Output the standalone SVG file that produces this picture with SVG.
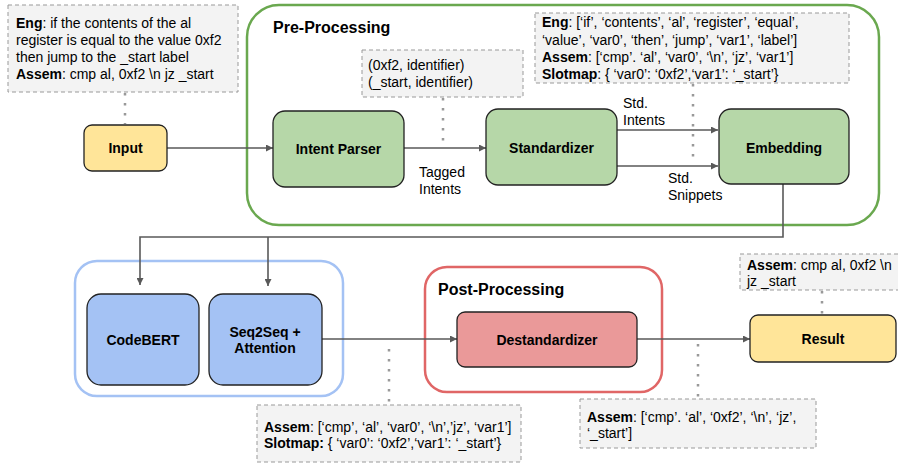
<svg xmlns="http://www.w3.org/2000/svg" width="898" height="465" viewBox="0 0 898 465">
<defs>
<marker id="arr" viewBox="0 0 10 10" refX="10" refY="5" markerWidth="7" markerHeight="7" markerUnits="userSpaceOnUse" orient="auto">
<path d="M0,0 L10,5 L0,10 z" fill="#595959"/>
</marker>
</defs>
<style>
text{font-family:"Liberation Sans",Arial,sans-serif;fill:#000}
.t{font-size:14px}
.b{font-weight:bold}
.nl{font-size:14px;font-weight:bold;text-anchor:middle}
.title{font-size:16px;font-weight:bold}
.note{fill:#f3f3f3;stroke:#999;stroke-width:1;stroke-dasharray:4 3}
.dot{fill:none;stroke:#999;stroke-width:2.5;stroke-dasharray:2.5 7.5}
.ln{fill:none;stroke:#595959;stroke-width:1.6}
.node{stroke:#222;stroke-width:1.3}
.green{fill:#b6d7a8}
.yellow{fill:#ffe599}
.blue{fill:#a4c2f4}
.red{fill:#ea9999}
</style>
<rect width="898" height="465" fill="#fff"/>

<g id="group-pre">
<rect x="247" y="5" width="632" height="220" rx="32" fill="none" stroke="#6aa84f" stroke-width="2.5"/>
<text class="title" x="273" y="33">Pre-Processing</text>
</g>
<g id="group-model">
<rect x="75" y="261" width="268" height="135" rx="22" fill="none" stroke="#a4c2f4" stroke-width="2.5"/>
</g>
<g id="group-post">
<rect x="425" y="267" width="237" height="125" rx="22" fill="none" stroke="#e06666" stroke-width="2.5"/>
<text class="title" x="438" y="295">Post-Processing</text>
</g>

<g id="connectors">
<path class="dot" d="M125,93 V124"/>
<path class="dot" d="M443,98 V143"/>
<path class="dot" d="M693,84 V162"/>
<path class="dot" d="M389,349 V404"/>
<path class="dot" d="M698,344 V398"/>
<path class="dot" d="M822,291 V314"/>
<path class="ln" d="M167,148 H273" marker-end="url(#arr)"/>
<path class="ln" d="M404,148 H486" marker-end="url(#arr)"/>
<path class="ln" d="M617,130 H718" marker-end="url(#arr)"/>
<path class="ln" d="M617,166 H718" marker-end="url(#arr)"/>
<path class="ln" d="M783,184 V237 H140 V285" marker-end="url(#arr)"/>
<path class="ln" d="M268,237 V286" marker-end="url(#arr)"/>
<path class="ln" d="M322,339 H457" marker-end="url(#arr)"/>
<path class="ln" d="M637,339 H750" marker-end="url(#arr)"/>
<text class="t" x="419" y="177">Tagged</text>
<text class="t" x="419" y="194">Intents</text>
<text class="t" x="623" y="108">Std.</text>
<text class="t" x="623" y="125">Intents</text>
<text class="t" x="668" y="183">Std.</text>
<text class="t" x="668" y="200">Snippets</text>
</g>

<g id="note-input">
<rect class="note" x="8" y="5" width="230" height="87"/>
<text class="t" x="16" y="28"><tspan class="b">Eng</tspan>: if the contents of the al</text>
<text class="t" x="16" y="45">register is equal to the value 0xf2</text>
<text class="t" x="16" y="62">then jump to the _start label</text>
<text class="t" x="16" y="79"><tspan class="b">Assem</tspan>: cmp al, 0xf2 \n jz _start</text>
</g>
<g id="note-tags">
<rect class="note" x="362" y="50" width="161" height="47"/>
<text class="t" x="368" y="70">(0xf2, identifier)</text>
<text class="t" x="368" y="87">(_start, identifier)</text>
</g>
<g id="note-std">
<rect class="note" x="535" y="13" width="314" height="70"/>
<text class="t" x="542" y="27"><tspan class="b">Eng</tspan>: [‘if’, ‘contents’, ‘al’, ‘register’, ‘equal’,</text>
<text class="t" x="542" y="45">‘value’, ‘var0’, ‘then’, ‘jump’, ‘var1’, ‘label’]</text>
<text class="t" x="542" y="62"><tspan class="b">Assem</tspan>: [‘cmp’. ‘al’, ‘var0’, ‘\n’, ‘jz’, ‘var1’]</text>
<text class="t" x="542" y="79"><tspan class="b">Slotmap</tspan>: { ‘var0’: ‘0xf2’,‘var1’: ‘_start’}</text>
</g>
<g id="note-model">
<rect class="note" x="257" y="405" width="264" height="57"/>
<text class="t" x="264" y="432"><tspan class="b">Assem</tspan>: [‘cmp’, ‘al’, ‘var0’, ‘\n’,’jz’, ‘var1’]</text>
<text class="t" x="264" y="448"><tspan class="b">Slotmap:</tspan> { ‘var0’: ‘0xf2’,‘var1’: ‘_start’}</text>
</g>
<g id="note-destd">
<rect class="note" x="580" y="399" width="236" height="49"/>
<text class="t" x="587" y="422"><tspan class="b">Assem</tspan>: [‘cmp’. ‘al’, ‘0xf2’, ‘\n’, ‘jz’,</text>
<text class="t" x="587" y="438">‘_start’]</text>
</g>
<g id="note-result">
<rect class="note" x="740" y="254" width="160" height="36"/>
<text class="t" x="747" y="270"><tspan class="b">Assem</tspan>: cmp al, 0xf2 \n</text>
<text class="t" x="747" y="286">jz _start</text>
</g>

<g id="node-input">
<rect class="node yellow" x="84" y="125" width="83" height="46" rx="8"/>
<text class="nl" x="125.5" y="153">Input</text>
</g>
<g id="node-intent-parser">
<rect class="node green" x="273" y="111" width="131" height="76" rx="12"/>
<text class="nl" x="338.5" y="154">Intent Parser</text>
</g>
<g id="node-standardizer">
<rect class="node green" x="486" y="109" width="131" height="76" rx="12"/>
<text class="nl" x="551.5" y="153">Standardizer</text>
</g>
<g id="node-embedding">
<rect class="node green" x="719" y="109" width="130" height="75" rx="12"/>
<text class="nl" x="784" y="153">Embedding</text>
</g>
<g id="node-codebert">
<rect class="node blue" x="87" y="294" width="112" height="91" rx="14"/>
<text class="nl" x="143" y="345">CodeBERT</text>
</g>
<g id="node-seq2seq">
<rect class="node blue" x="209" y="294" width="113" height="91" rx="14"/>
<text class="nl" x="265" y="337">Seq2Seq +</text>
<text class="nl" x="265" y="353">Attention</text>
</g>
<g id="node-destandardizer">
<rect class="node red" x="457" y="312" width="180" height="55" rx="8"/>
<text class="nl" x="547" y="345">Destandardizer</text>
</g>
<g id="node-result">
<rect class="node yellow" x="750" y="315" width="146" height="47" rx="8"/>
<text class="nl" x="823" y="344">Result</text>
</g>
</svg>
